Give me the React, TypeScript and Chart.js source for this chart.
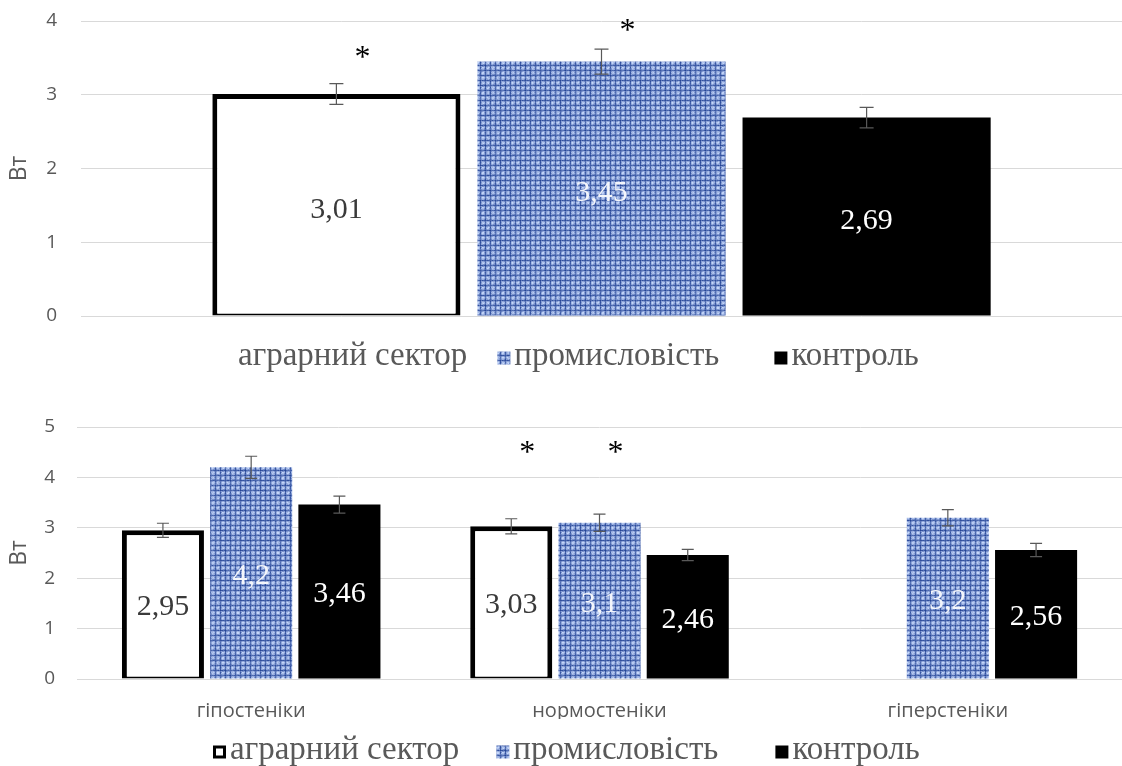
import React, { useEffect, useRef } from "react";
import { Chart, registerables } from "chart.js";
Chart.register(...registerables);

// ---------- DATA ----------
const seriesNames = ["аграрний сектор", "промисловість", "контроль"];

// Top chart (one group, three series)
const topValues = [3.01, 3.45, 2.69];
const topErrors = [0.14, 0.17, 0.14];
const topStars = [3.58, 3.95, null];
const topTicks = [0, 1, 2, 3, 4];

// Bottom chart (three groups)
const bottomCategories = ["гіпостеніки", "нормостеніки", "гіперстеніки"];
const agrValues = [2.95, 3.03, null];
const promValues = [4.2, 3.1, 3.2];
const ctrlValues = [3.46, 2.46, 2.56];
const agrErrors = [0.14, 0.15, null];
const promErrors = [0.22, 0.17, 0.16];
const ctrlErrors = [0.17, 0.11, 0.13];
const agrStars = [null, 4.6, null];
const promStars = [null, 4.6, null];
const ctrlStars = [null, null, null];
const bottomTicks = [0, 1, 2, 3, 4, 5];

const axisTitle = "Вт";

// ---------- STYLE HELPERS ----------
const GREY = "#595959";
const SERIF = "'Liberation Serif', 'DejaVu Serif', serif";
const SANS = "'Open Sans', 'Liberation Sans', sans-serif";

// deterministic texture (woven cloth look) for the "промисловість" fill
function makeWeavePattern(ctx: CanvasRenderingContext2D): CanvasPattern | string {
  const N = 20;
  const P = 5;
  const c = document.createElement("canvas");
  c.width = N;
  c.height = N;
  const p = c.getContext("2d");
  if (!p) return "#6b8bd0";
  const hash = (x: number, y: number) => {
    const s = Math.sin(x * 12.9898 + y * 78.233) * 43758.5453;
    return s - Math.floor(s);
  };
  for (let y = 0; y < N; y++) {
    for (let x = 0; x < N; x++) {
      const a = x % P;
      const b = y % P;
      let t = 0.55; // brightness 0 (dark) .. 1 (light)
      if (a === 0 || b === 0) t = 0.2;
      if (a === 0 && b === 0) t = 0.05;
      if ((a === 2 || a === 3) && (b === 2 || b === 3)) t = 0.92;
      else if ((a === 1 || a === 4) && (b === 2 || b === 3)) t = 0.68;
      else if ((b === 1 || b === 4) && (a === 2 || a === 3)) t = 0.66;
      t += (hash(x, y) - 0.5) * 0.3;
      t = Math.max(0, Math.min(1, t));
      const r = Math.round(38 + t * (196 - 38));
      const g = Math.round(70 + t * (214 - 70));
      const bl = Math.round(152 + t * (250 - 152));
      p.fillStyle = `rgb(${r},${g},${bl})`;
      p.fillRect(x, y, 1, 1);
    }
  }
  return ctx.createPattern(c, "repeat") || "#6b8bd0";
}

function fmt(v: number): string {
  return String(v).replace(".", ",");
}

// Draws value labels, error bars and asterisks
const barExtras = {
  id: "barExtras",
  afterDatasetsDraw(chart: any, _args: any, opts: any) {
    const ctx = chart.ctx;
    const ys = chart.scales.y;
    chart.data.datasets.forEach((ds: any, di: number) => {
      const meta = chart.getDatasetMeta(di);
      meta.data.forEach((bar: any, i: number) => {
        const v = ds.data[i];
        if (v == null) return;
        const { x, y, base } = bar.getProps(["x", "y", "base"], true);
        // value label
        ctx.save();
        ctx.font = `30px ${SERIF}`;
        ctx.fillStyle = ds.labelColor;
        ctx.textAlign = "center";
        ctx.textBaseline = "middle";
        ctx.fillText(fmt(v), x, (y + base) / 2 + opts.labelShift);
        ctx.restore();
        // error bar
        const e = ds.errors ? ds.errors[i] : null;
        if (e != null) {
          const y1 = ys.getPixelForValue(v + e);
          const y2 = ys.getPixelForValue(v - e);
          const cw = opts.capHalf;
          ctx.save();
          ctx.strokeStyle = GREY;
          ctx.lineWidth = 1.2;
          ctx.beginPath();
          ctx.moveTo(x, y1);
          ctx.lineTo(x, y2);
          ctx.moveTo(x - cw, y1);
          ctx.lineTo(x + cw, y1);
          ctx.moveTo(x - cw, y2);
          ctx.lineTo(x + cw, y2);
          ctx.stroke();
          ctx.restore();
        }
        // asterisk
        const s = ds.stars ? ds.stars[i] : null;
        if (s != null) {
          const sy = ys.getPixelForValue(s);
          ctx.save();
          ctx.font = `32px ${SERIF}`;
          ctx.fillStyle = "#000";
          ctx.textAlign = "center";
          ctx.textBaseline = "alphabetic";
          const m = ctx.measureText("*");
          const asc = m.actualBoundingBoxAscent || 0;
          const desc = m.actualBoundingBoxDescent || 0;
          ctx.fillText("*", x + opts.starOffset, sy + (asc - desc) / 2);
          ctx.restore();
        }
      });
    });
  },
};

// Custom legend drawn at the bottom
const bottomLegend = {
  id: "bottomLegend",
  afterDraw(chart: any, _args: any, opts: any) {
    const ctx = chart.ctx;
    const ds = chart.data.datasets;
    ctx.save();
    ctx.font = `33px ${SERIF}`;
    const box = 13;
    const gapText = 4;
    const gaps: number[] = opts.gaps;
    let x = opts.x;
    const yc = opts.y;
    ds.forEach((d: any, i: number) => {
      const bx = x;
      const by = yc - box / 2 + 2;
      if (d.legendBox === "outline") {
        ctx.fillStyle = "#fff";
        ctx.fillRect(bx, by, box, box);
        ctx.strokeStyle = "#000";
        ctx.lineWidth = 3;
        ctx.strokeRect(bx + 1.5, by + 1.5, box - 3, box - 3);
      } else if (d.legendBox !== "none") {
        ctx.fillStyle = d.backgroundColor;
        ctx.fillRect(bx, by, box, box);
      }
      ctx.fillStyle = GREY;
      ctx.textAlign = "left";
      ctx.textBaseline = "middle";
      const w = ctx.measureText(d.label).width;
      ctx.fillText(d.label, bx + box + gapText, yc);
      x += box + gapText + w + (gaps[i] || 0);
    });
    ctx.restore();
  },
};

function TopChart() {
  const ref = useRef<HTMLCanvasElement | null>(null);
  useEffect(() => {
    const canvas = ref.current;
    if (!canvas) return;
    const ctx = canvas.getContext("2d")!;
    const pattern = makeWeavePattern(ctx);
    const styles = [
      { bg: "#ffffff", border: "#000", bw: { top: 5, left: 5, right: 5, bottom: 2 }, lc: "#3a3a3a", lb: "none" },
      { bg: pattern, border: "rgba(0,0,0,0)", bw: 0, lc: "#f4f6fb", lb: "fill" },
      { bg: "#000000", border: "#000", bw: 0, lc: "#ffffff", lb: "fill" },
    ];
    const chart = new Chart(canvas, {
      type: "bar",
      data: {
        labels: [""],
        datasets: seriesNames.map((name, i) => ({
          label: name,
          data: [topValues[i]],
          errors: [topErrors[i]],
          stars: [topStars[i]],
          labelColor: styles[i].lc,
          legendBox: styles[i].lb,
          backgroundColor: styles[i].bg,
          borderColor: styles[i].border,
          borderWidth: styles[i].bw,
          borderSkipped: false,
          categoryPercentage: 0.764,
          barPercentage: 0.936,
        })) as any,
      },
      options: {
        responsive: false,
        animation: false,
        layout: { padding: { top: 21, left: 0, right: 0, bottom: 69 } },
        plugins: {
          legend: { display: false },
          tooltip: { enabled: false },
          barExtras: { capHalf: 7, starOffset: 26, labelShift: 5 },
          bottomLegend: { y: 356, x: 221, gaps: [30, 55] },
        } as any,
        scales: {
          x: { display: false },
          y: {
            min: 0,
            max: topTicks[topTicks.length - 1],
            afterBuildTicks: (s: any) => {
              s.ticks = topTicks.map((v) => ({ value: v }));
            },
            ticks: { color: GREY, padding: 24, font: { family: SANS, size: 19 } },
            grid: { color: "#d9d9d9", drawTicks: false, lineWidth: 1 },
            border: { display: false },
            title: { display: true, text: axisTitle, color: GREY, font: { family: SANS, size: 23 }, padding: { top: 6, bottom: 0 } },
            afterFit: (s: any) => {
              s.width = 81;
              s.paddingTop = 0;
              s.paddingBottom = 0;
            },
          },
        },
      },
      plugins: [barExtras, bottomLegend],
    });
    return () => chart.destroy();
  }, []);
  return <canvas ref={ref} width={1122} height={385} style={{ display: "block" }} />;
}

function BottomChart() {
  const ref = useRef<HTMLCanvasElement | null>(null);
  useEffect(() => {
    const canvas = ref.current;
    if (!canvas) return;
    const ctx = canvas.getContext("2d")!;
    const pattern = makeWeavePattern(ctx);
    const values = [agrValues, promValues, ctrlValues];
    const errors = [agrErrors, promErrors, ctrlErrors];
    const stars = [agrStars, promStars, ctrlStars];
    const styles = [
      { bg: "#ffffff", border: "#000", bw: { top: 5, left: 5, right: 5, bottom: 2 }, lc: "#3a3a3a", lb: "outline" },
      { bg: pattern, border: "rgba(0,0,0,0)", bw: 0, lc: "#f4f6fb", lb: "fill" },
      { bg: "#000000", border: "#000", bw: 0, lc: "#ffffff", lb: "fill" },
    ];
    const chart = new Chart(canvas, {
      type: "bar",
      data: {
        labels: bottomCategories,
        datasets: seriesNames.map((name, i) => ({
          label: name,
          data: values[i],
          errors: errors[i],
          stars: stars[i],
          labelColor: styles[i].lc,
          legendBox: styles[i].lb,
          backgroundColor: styles[i].bg,
          borderColor: styles[i].border,
          borderWidth: styles[i].bw,
          borderSkipped: false,
          categoryPercentage: 0.76,
          barPercentage: 0.93,
        })) as any,
      },
      options: {
        responsive: false,
        animation: false,
        layout: { padding: { top: 42, left: 0, right: 0, bottom: 47 } },
        plugins: {
          legend: { display: false },
          tooltip: { enabled: false },
          barExtras: { capHalf: 6, starOffset: 16, labelShift: 3 },
          bottomLegend: { y: 365, x: 213, gaps: [37, 57] },
        } as any,
        scales: {
          x: {
            grid: { display: false, drawTicks: false },
            border: { display: false },
            ticks: { color: GREY, padding: 20, font: { family: SANS, size: 20 } },
            afterFit: (s: any) => {
              s.height = 40;
            },
          },
          y: {
            min: 0,
            max: bottomTicks[bottomTicks.length - 1],
            afterBuildTicks: (s: any) => {
              s.ticks = bottomTicks.map((v) => ({ value: v }));
            },
            ticks: { color: GREY, padding: 22, font: { family: SANS, size: 19 } },
            grid: { color: "#d9d9d9", drawTicks: false, lineWidth: 1 },
            border: { display: false },
            title: { display: true, text: axisTitle, color: GREY, font: { family: SANS, size: 23 }, padding: { top: 6, bottom: 0 } },
            afterFit: (s: any) => {
              s.width = 77;
              s.paddingTop = 0;
              s.paddingBottom = 0;
            },
          },
        },
      },
      plugins: [barExtras, bottomLegend],
    });
    return () => chart.destroy();
  }, []);
  return <canvas ref={ref} width={1122} height={381} style={{ display: "block" }} />;
}

export default function App() {
  return (
    <div style={{ position: "absolute", left: 0, top: 0, width: 1122, height: 766, background: "#ffffff", overflow: "hidden" }}>
      <TopChart />
      <BottomChart />
    </div>
  );
}
